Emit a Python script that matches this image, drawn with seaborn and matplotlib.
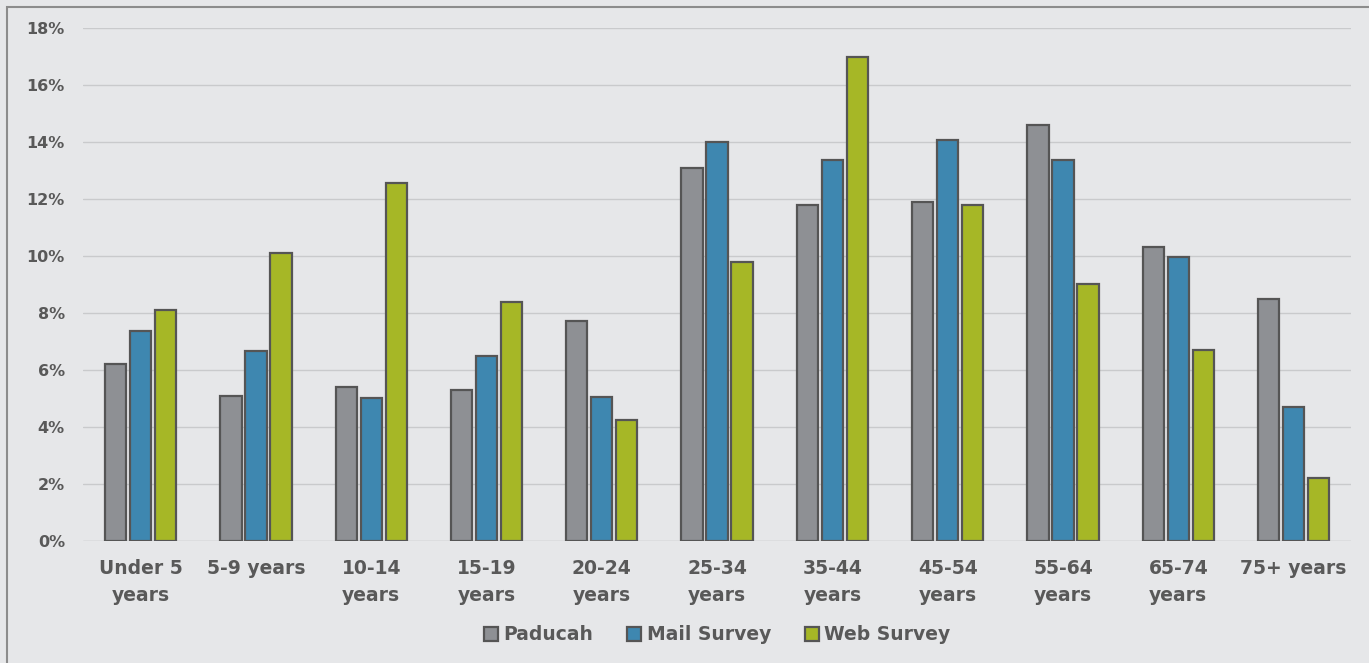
import pandas as pd
import matplotlib.pyplot as plt
import seaborn as sns
from matplotlib.patches import Rectangle
from matplotlib.ticker import PercentFormatter

# Age groups and shares (%)
age_groups = ["Under 5\nyears", "5-9 years", "10-14\nyears", "15-19\nyears", "20-24\nyears",
              "25-34\nyears", "35-44\nyears", "45-54\nyears", "55-64\nyears", "65-74\nyears",
              "75+ years"]
paducah = [6.2, 5.1, 5.4, 5.3, 7.7, 13.1, 11.8, 11.9, 14.6, 10.3, 8.5]
mail_survey = [7.35, 6.65, 5.0, 6.5, 5.05, 14.0, 13.35, 14.05, 13.35, 9.95, 4.7]
web_survey = [8.1, 10.1, 12.55, 8.4, 4.25, 9.8, 16.98, 11.8, 9.0, 6.7, 2.2]
series = ["Paducah", "Mail Survey", "Web Survey"]
colors = ["#8E9094", "#3E87B0", "#A6B726"]

df = pd.DataFrame({"age": age_groups * 3,
                   "value": paducah + mail_survey + web_survey,
                   "series": [s for s in series for _ in age_groups]})

sns.set_theme(style="white")
plt.rcParams['font.family'] = ['DejaVu Sans']
text_color = "#595959"
bg = "#E6E7E9"

fig = plt.figure(figsize=(13.69, 6.63), dpi=100, facecolor=bg)
ax = fig.add_axes([0.0606, 0.184, 0.9264, 0.774])
ax.set_facecolor(bg)

sns.barplot(data=df, x="age", y="value", hue="series", palette=colors,
            width=0.65, gap=0.15, edgecolor="#555555", linewidth=1.6,
            saturation=1, ax=ax)

ax.set_ylim(0, 18)
ax.set_yticks(range(0, 19, 2))
ax.yaxis.set_major_formatter(PercentFormatter(decimals=0))
ax.set_xlim(-0.5, len(age_groups) - 0.5)
ax.yaxis.grid(True, color="#C9CACC", linewidth=1)
ax.set_axisbelow(True)
for s in ax.spines.values():
    s.set_visible(False)
ax.axhline(0, color="#D0D1D3", linewidth=1, zorder=0)
ax.set_xlabel("")
ax.set_ylabel("")
ax.tick_params(axis="y", length=0, pad=13, labelsize=11.5, labelcolor=text_color)
ax.tick_params(axis="x", length=0, pad=13, labelsize=13.5, labelcolor=text_color)
for lbl in ax.get_xticklabels() + ax.get_yticklabels():
    lbl.set_fontweight("bold")
for lbl in ax.get_xticklabels():
    lbl.set_linespacing(1.55)

leg = ax.legend(loc="center", bbox_to_anchor=(0.5, -0.183), ncol=3, frameon=False,
                fontsize=13.5, handlelength=0.75, handleheight=0.75,
                handletextpad=0.3, columnspacing=1.8)
for t in leg.get_texts():
    t.set_color(text_color)
    t.set_fontweight("bold")

# outer frame
fig.patches.append(Rectangle((0.005, -0.01), 1.1, 1.0, transform=fig.transFigure,
                             fill=False, edgecolor="#8C8C8C", linewidth=1.5))

fig.savefig("out.png", dpi=100, facecolor=bg)
